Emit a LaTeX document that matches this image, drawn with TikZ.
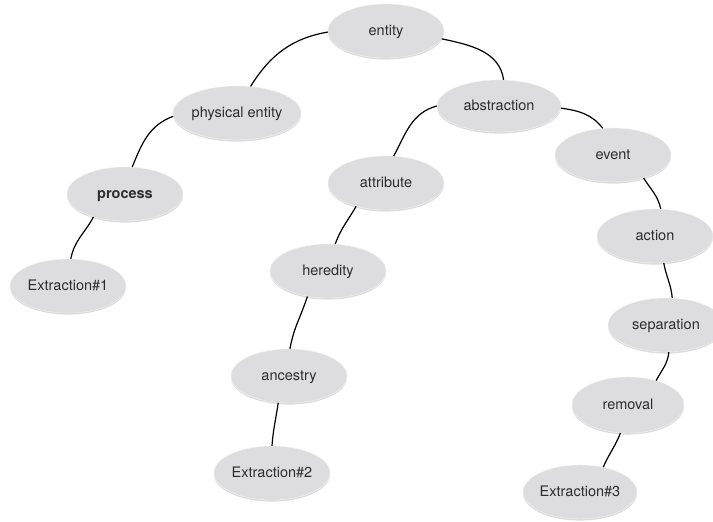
\documentclass[tikz,border=0pt]{standalone}
\usepackage{fontspec}
\setmainfont{TeX Gyre Heros}
\usetikzlibrary{shapes.geometric,shadows}
\definecolor{nodefill}{RGB}{221,221,223}
\definecolor{nodetext}{RGB}{45,45,45}
\tikzset{
  concept/.style={ellipse, fill=nodefill, draw=white!90!gray, line width=0.4pt,
    minimum width=116pt, minimum height=54pt, inner sep=0pt,
    text height=11pt, text depth=3pt,
    text=nodetext, font=\fontsize{14.5}{17}\selectfont,
    drop shadow={shadow xshift=0pt, shadow yshift=-1.6pt, opacity=0.28, fill=gray}},
  link/.style={line width=1.2pt, black}
}
\begin{document}
\begin{tikzpicture}[x=1pt,y=1pt]
\useasboundingbox (0,0) rectangle (713,-522);
\begin{scope}
\clip (0,0) rectangle (713,-522);
\node[concept] (entity) at (386,-31) {entity};
\node[concept] (physical) at (237,-113) {physical entity};
\node[concept] (process) at (125,-194) {\bfseries process};
\node[concept] (ex1) at (68,-286) {Extraction\#1};
\node[concept, minimum width=124pt, minimum height=52pt] (abstraction) at (499,-106) {abstraction};
\node[concept] (attribute) at (386,-183) {attribute};
\node[concept] (event) at (613,-155) {event};
\node[concept] (heredity) at (328,-271) {heredity};
\node[concept] (action) at (655,-236) {action};
\node[concept] (ancestry) at (289,-376) {ancestry};
\node[concept] (separation) at (666,-325) {separation};
\node[concept, minimum width=112pt, minimum height=56pt] (removal) at (628,-405) {removal};
\node[concept] (ex2) at (272,-473) {Extraction\#2};
\node[concept, minimum width=112pt] (ex3) at (580,-492) {Extraction\#3};

\draw[link] (entity.181) to[out=190, in=58] (physical.63);
\draw[link] (entity.-8) to[out=-12, in=98] (abstraction.80);
\draw[link] (physical.183) to[out=200, in=68] (process.75);
\draw[link] (process.216) to[out=242, in=80] (ex1.84);
\draw[link] (abstraction.180) to[out=195, in=62] (attribute.74);
\draw[link] (abstraction.-2) to[out=-8, in=128] (event.111);
\draw[link] (event.-37) to[out=-58, in=102] (action.78);
\draw[link] (action.-72) to[out=-80, in=95] (separation.77);
\draw[link] (separation.-84) to[out=-96, in=62] (removal.41);
\draw[link] (removal.-105) to[out=-112, in=66] (ex3.47);
\draw[link] (attribute.218) to[out=240, in=70] (heredity.75);
\draw[link] (heredity.231) to[out=252, in=80] (ancestry.88);
\draw[link] (ancestry.248) to[out=262, in=86] (ex2.90);
\end{scope}
\end{tikzpicture}
\end{document}
